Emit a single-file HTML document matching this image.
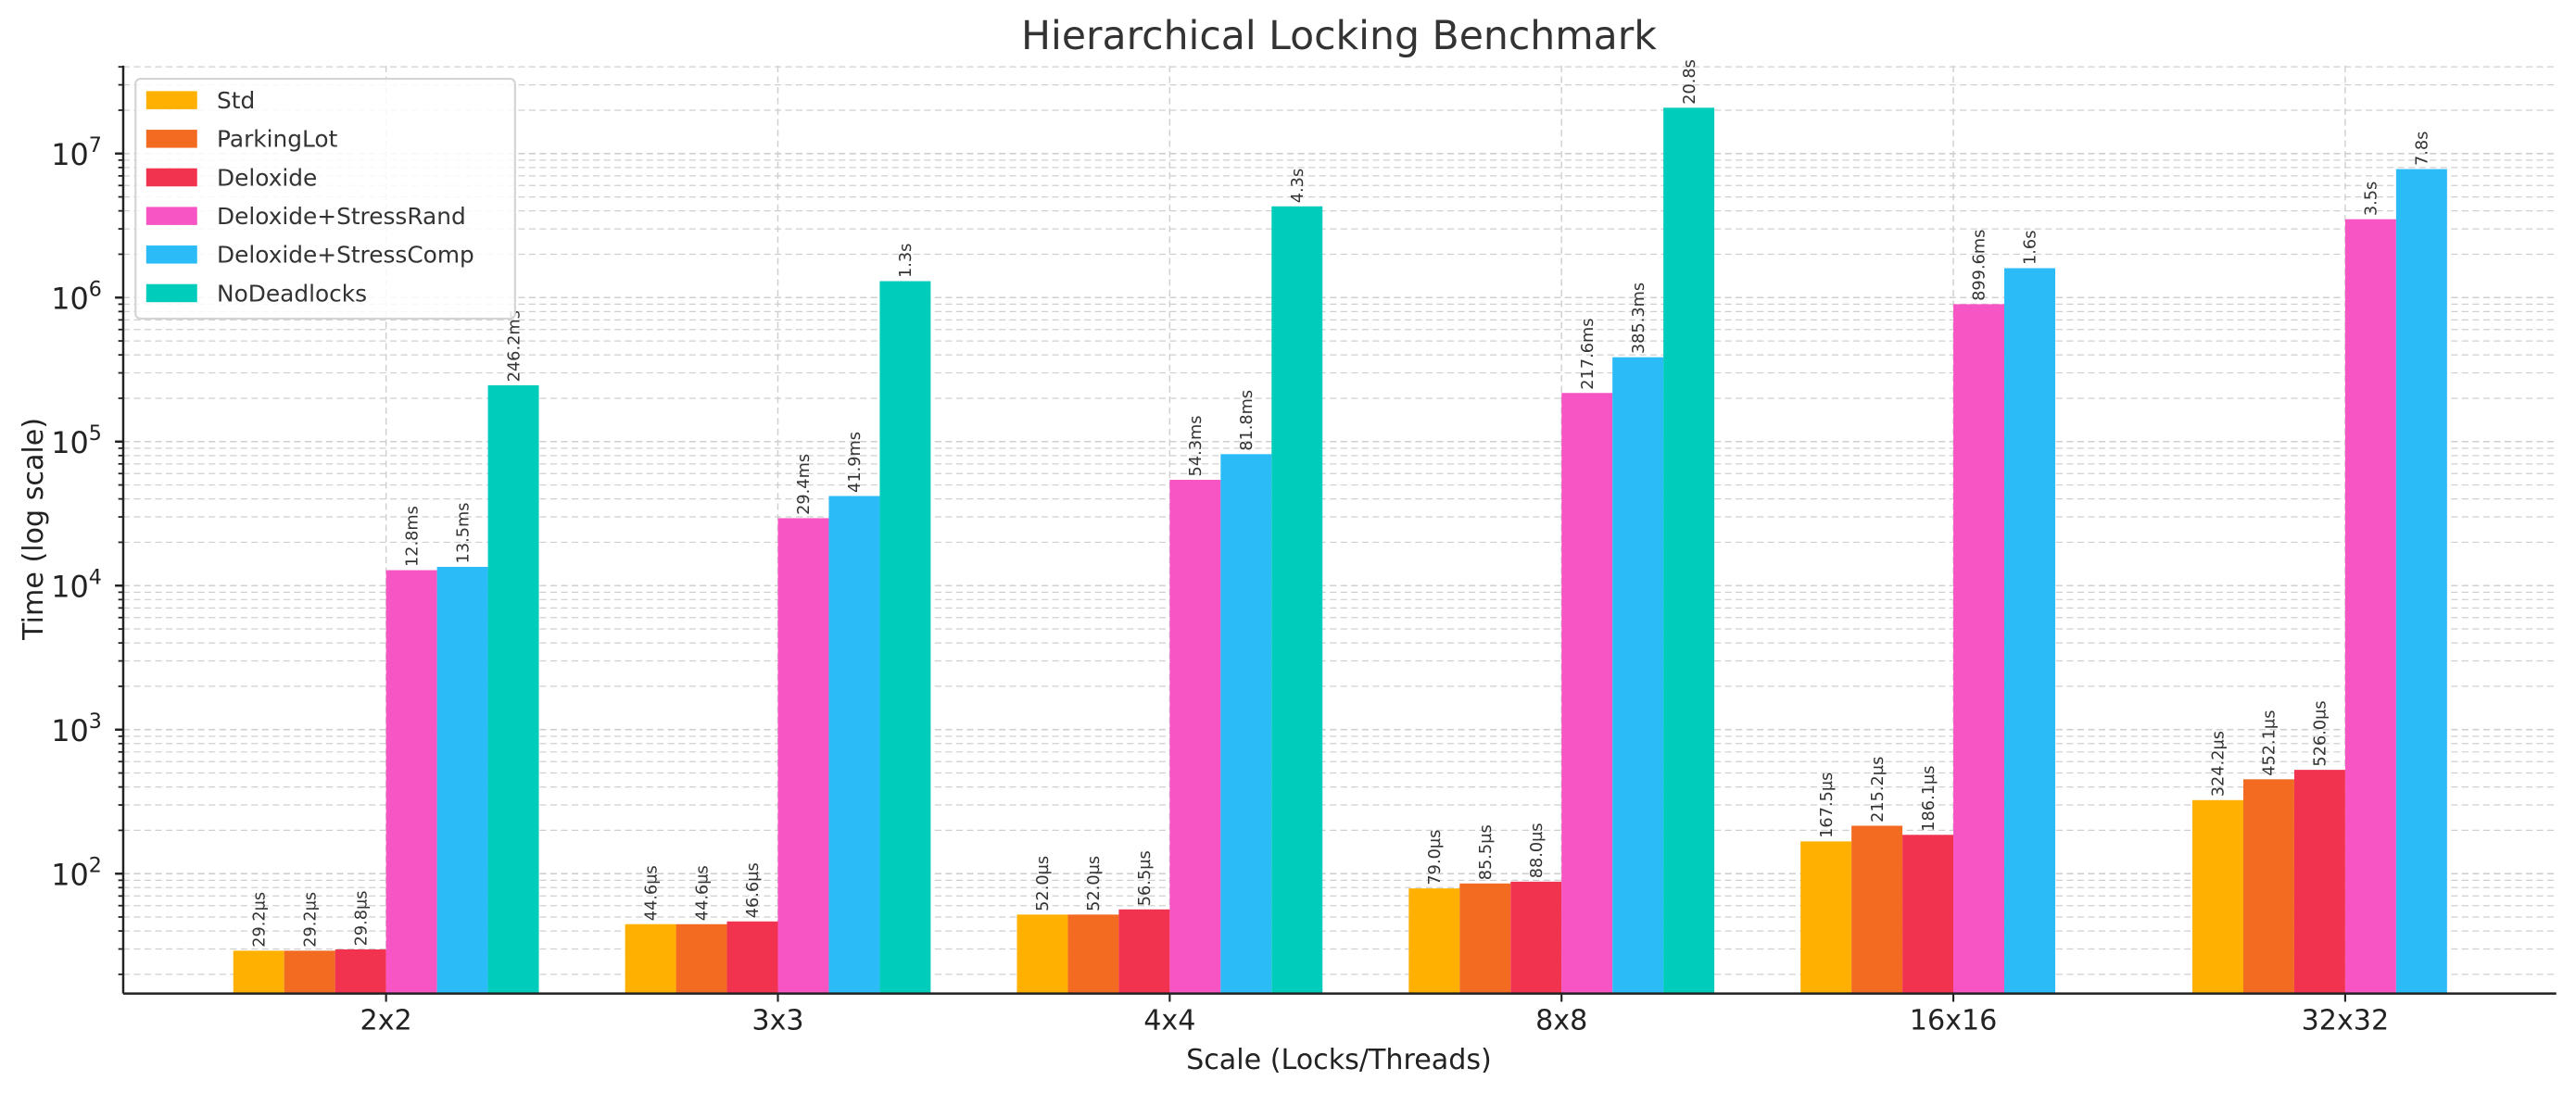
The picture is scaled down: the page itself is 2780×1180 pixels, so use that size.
<!DOCTYPE html>
<html><head><meta charset="utf-8"><style>
html,body{margin:0;padding:0;background:#fff;}
svg{display:block;font-family:"DejaVu Sans","Liberation Sans",sans-serif;}
</style></head><body>
<svg id="chart" width="2780" height="1180" viewBox="0 0 1568 665.55" xmlns="http://www.w3.org/2000/svg">
<rect width="1568" height="665.55" fill="#fff"/>
<g id="grid"></g><g id="bars"></g><g id="axes"></g>
</svg>
<script>
const categories=["2x2","3x3","4x4","8x8","16x16","32x32"];
const seriesNames=["Std","ParkingLot","Deloxide","Deloxide+StressRand","Deloxide+StressComp","NoDeadlocks"];
const stdVals=[29.2,44.6,52.0,79.0,167.5,324.2];
const parkingLotVals=[29.2,44.6,52.0,85.5,215.2,452.1];
const deloxideVals=[29.8,46.6,56.5,88.0,186.1,526.0];
const stressRandVals=[12800,29400,54300,217600,899600,3500000];
const stressCompVals=[13500,41900,81800,385300,1600000,7800000];
const noDeadlocksVals=[246200,1300000,4300000,20800000,null,null];
const yTickExps=[2,3,4,5,6,7];
const colors=["#FFB000","#F26B21","#F23350","#F755C4","#2BBBF7","#00CCBB"];
const allSeries=[stdVals,parkingLotVals,deloxideVals,stressRandVals,stressCompVals,noDeadlocksVals];

const NS="http://www.w3.org/2000/svg";
const L=75,R=1556,T=40,B=605;
const y0=532,dec=87.7;
function y(v){return y0-(Math.log10(v)-2)*dec;}
const groupW=238.5,firstC=235,barW=31;
function xc(i){return firstC+i*groupW;}
function mk(tag,attrs,parent,text){const e=document.createElementNS(NS,tag);for(const k in attrs)e.setAttribute(k,attrs[k]);if(text!==undefined)e.textContent=text;parent.appendChild(e);return e;}
function fmt(v){if(v<1000)return v.toFixed(1)+"µs";if(v<1e6)return (v/1000).toFixed(1)+"ms";return (v/1e6).toFixed(1)+"s";}
const grid=document.getElementById('grid'),bars=document.getElementById('bars'),axes=document.getElementById('axes');
const svg=document.getElementById('chart');
// title
const t=mk('text',{x:815,y:30,'text-anchor':'middle','font-size':24,fill:'#333'},svg,"Hierarchical Locking Benchmark");


// horizontal grid (major + minor)
const vMin=Math.pow(10,2-(B-y0)/dec),vMax=Math.pow(10,2+(y0-T)/dec);
for(let e=1;e<=7;e++){for(let m=1;m<=9;m++){const v=m*Math.pow(10,e);if(v<vMin||v>vMax)continue;const yy=y(v);
const g=mk('line',{x1:L,x2:R,y1:yy,y2:yy,stroke:'#cfcfcf','stroke-width':m===1?0.9:0.7,'stroke-dasharray':'4,2.5'},grid);


mk('line',{x1:L-(m===1?5:3),x2:L,y1:yy,y2:yy,stroke:'#222','stroke-width':m===1?1.4:1},axes);}}
categories.forEach((c,i)=>{const g=mk('line',{x1:xc(i),x2:xc(i),y1:T,y2:B,stroke:'#cfcfcf','stroke-width':0.8,'stroke-dasharray':'4,2.5'},grid);

});
// bars
allSeries.forEach((vals,s)=>{vals.forEach((v,i)=>{if(v==null)return;
const x=xc(i)-3*barW+s*barW;const top=y(v);
const r=mk('rect',{x:x,y:top,width:barW,height:B-top,fill:colors[s]},bars);


const cx=x+barW/2+3.5,ty=top-2;
const lb=mk('text',{x:cx,y:ty,'font-size':10,fill:'#333',transform:`rotate(-90 ${cx} ${ty})`},bars,fmt(v));

});});
// axes
mk('line',{x1:L,x2:L,y1:T,y2:B,stroke:'#222','stroke-width':1.4},axes);
mk('line',{x1:L,x2:R,y1:B,y2:B,stroke:'#222','stroke-width':1.4},axes);
yTickExps.forEach(e=>{const yy=y(Math.pow(10,e));
const tx=mk('text',{x:62,y:yy+7,'text-anchor':'end','font-size':18,fill:'#222'},axes);


mk('tspan',{},tx,"10");mk('tspan',{dy:-8,'font-size':12.5},tx,String(e));});
categories.forEach((c,i)=>{mk('line',{x1:xc(i),x2:xc(i),y1:B,y2:B+5,stroke:'#222','stroke-width':1.2},axes);
const tx=mk('text',{x:xc(i),y:B+22,'text-anchor':'middle','font-size':17,fill:'#222'},axes,c);

});
const xl=mk('text',{x:815,y:651,'text-anchor':'middle','font-size':17,fill:'#222'},axes,"Scale (Locks/Threads)");


const yl=mk('text',{x:26,y:322,'text-anchor':'middle','font-size':17,fill:'#222',transform:'rotate(-90 26 322)'},axes,"Time (log scale)");


// legend
const lg=mk('g',{},svg);


mk('rect',{x:82.5,y:48,width:231,height:146,rx:3,fill:'#fff','fill-opacity':0.85,stroke:'#d4d4d4','stroke-width':1.2},lg);
seriesNames.forEach((n,s)=>{const yy=61+s*23.5;
const it=mk('g',{},lg);


mk('rect',{x:89,y:yy-5.5,width:31,height:11,fill:colors[s]},it);
mk('text',{x:132,y:yy+5,'font-size':14,fill:'#333'},it,n);});
</script>
</body></html>
